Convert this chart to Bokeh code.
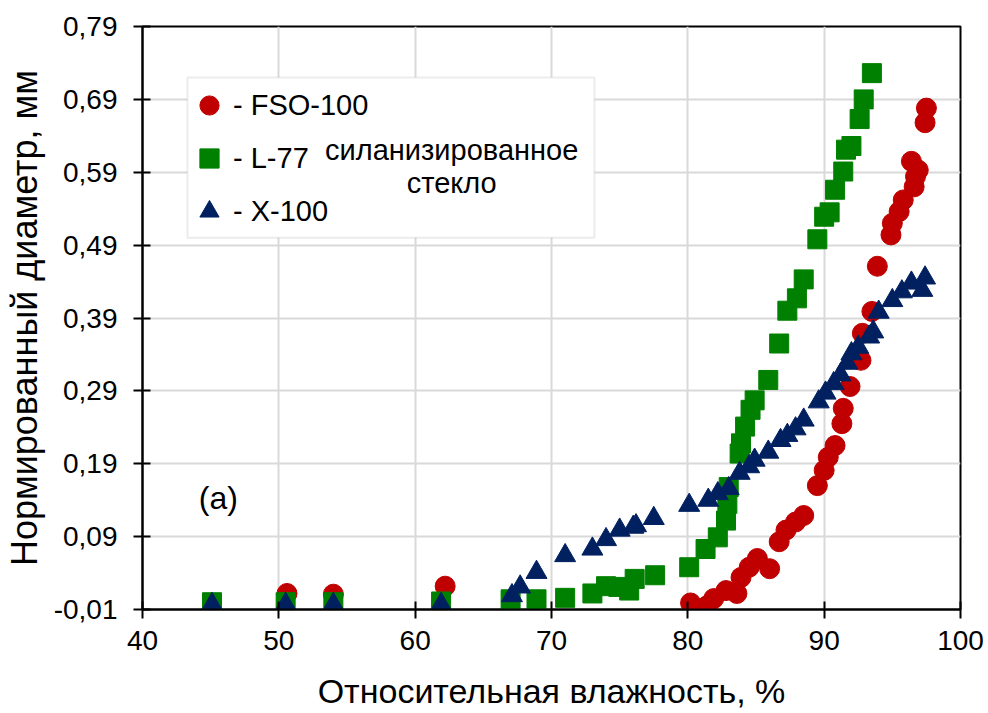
from bokeh.plotting import figure
from bokeh.models import FixedTicker, Legend, LegendItem, Label, BoxAnnotation, Range1d
from bokeh.embed import file_html
from bokeh.resources import INLINE

# ---- data ----
fso_x = [50.6, 54.0, 62.2, 80.2, 81.4, 81.9, 82.8, 83.6, 83.9, 84.5, 85.1, 86.0, 86.7,
         87.2, 87.9, 88.5, 89.5, 90.0, 90.3, 90.8, 91.3, 91.4, 91.9, 92.7, 92.8, 93.5,
         93.9, 94.9, 95.0, 95.5, 95.8, 96.6, 96.7, 96.9, 96.4, 97.4, 97.5]
fso_y = [0.012, 0.011, 0.022, -0.001, -0.005, 0.005, 0.016, 0.012, 0.034, 0.048, 0.060,
         0.046, 0.083, 0.099, 0.110, 0.119, 0.160, 0.181, 0.199, 0.215, 0.245, 0.266,
         0.296, 0.332, 0.369, 0.399, 0.461, 0.504, 0.520, 0.536, 0.552, 0.570, 0.584,
         0.593, 0.605, 0.658, 0.678]

l77_x = [45.1, 50.5, 54.0, 61.9, 67.0, 68.9, 71.0, 73.0, 74.0, 74.9, 75.7, 76.1, 77.6,
         80.1, 81.3, 82.2, 82.8, 82.9, 83.0, 83.8, 83.9, 84.2, 84.6, 84.9, 85.9, 86.7,
         87.3, 88.0, 88.5, 89.5, 90.0, 90.4, 90.8, 91.4, 91.6, 92.0, 92.6, 92.9, 93.5]
l77_y = [0.0, 0.0, 0.0, 0.001, 0.004, 0.004, 0.006, 0.012, 0.022, 0.021, 0.016, 0.032,
         0.037, 0.048, 0.073, 0.089, 0.112, 0.135, 0.158, 0.204, 0.218, 0.241, 0.264,
         0.277, 0.305, 0.355, 0.400, 0.417, 0.443, 0.498, 0.529, 0.535, 0.566, 0.591,
         0.621, 0.626, 0.663, 0.690, 0.726]

x100_x = [45.1, 50.5, 54.0, 61.9, 67.1, 67.7, 68.9, 71.0, 73.0, 74.0, 75.0, 76.0, 76.2,
          77.5, 80.1, 81.5, 82.2, 83.0, 83.8, 84.5, 84.9, 85.9, 86.8, 87.3, 87.9, 88.5,
          89.6, 90.1, 90.7, 91.2, 91.7, 92.0, 92.5, 93.3, 93.6, 94.0, 95.0, 95.7, 96.4,
          97.2, 97.4]
x100_y = [-0.003, -0.003, -0.003, -0.003, 0.009, 0.021, 0.041, 0.064, 0.073, 0.086, 0.099,
          0.103, 0.105, 0.115, 0.133, 0.140, 0.149, 0.156, 0.177, 0.186, 0.195, 0.206,
          0.222, 0.229, 0.238, 0.250, 0.275, 0.287, 0.300, 0.312, 0.328, 0.341, 0.350,
          0.364, 0.371, 0.398, 0.414, 0.426, 0.438, 0.428, 0.445]

x_ticks = [40, 50, 60, 70, 80, 90, 100]
y_ticks = [-0.01, 0.09, 0.19, 0.29, 0.39, 0.49, 0.59, 0.69, 0.79]
y_tick_labels = ["-0,01", "0,09", "0,19", "0,29", "0,39", "0,49", "0,59", "0,69", "0,79"]

series_names = ["- FSO-100", "- L-77", "- X-100"]
x_label = "Относительная влажность, %"
y_label = "Нормированный диаметр, мм"
note_line1 = "силанизированное"
note_line2 = "стекло"
panel_tag = "(a)"

FONT = "Liberation Sans"

p = figure(width=988, height=713, output_backend="svg", toolbar_location=None,
           x_range=Range1d(40, 100), y_range=Range1d(-0.01, 0.79),
           min_border_left=142, min_border_right=28, min_border_top=26,
           min_border_bottom=104)

p.background_fill_color = "white"
p.border_fill_color = "white"
p.outline_line_color = "black"
p.outline_line_width = 2

# grid
p.xgrid.ticker = FixedTicker(ticks=x_ticks)
p.ygrid.ticker = FixedTicker(ticks=y_ticks)
for g in (p.xgrid, p.ygrid):
    g.grid_line_color = "#d9d9d9"
    g.grid_line_width = 2

# axes
p.xaxis.ticker = FixedTicker(ticks=x_ticks)
p.yaxis.ticker = FixedTicker(ticks=y_ticks)
p.yaxis.major_label_overrides = {t: s for t, s in zip(y_ticks, y_tick_labels)}
for ax in (p.xaxis, p.yaxis):
    ax.axis_line_color = "black"
    ax.axis_line_width = 2
    ax.major_tick_line_color = "black"
    ax.major_tick_line_width = 2
    ax.major_tick_in = 8
    ax.major_tick_out = 9
    ax.minor_tick_line_color = None
    ax.major_label_text_font = FONT
    ax.major_label_text_font_size = "28px"
    ax.major_label_text_color = "black"
    ax.axis_label_text_font = FONT
    ax.axis_label_text_font_style = "normal"
    ax.axis_label_text_color = "black"

p.xaxis.axis_label = x_label
p.yaxis.axis_label = y_label
p.xaxis.axis_label_text_font_size = "34px"
p.yaxis.axis_label_text_font_size = "36px"
p.yaxis.major_label_standoff = 16
p.xaxis.major_label_standoff = 12
p.yaxis.axis_label_standoff = 6
p.xaxis.axis_label_standoff = 19

# legend frame (annotation box)
box = BoxAnnotation(left=43.3, right=73.15, bottom=0.500, top=0.720,
                    fill_color="white", fill_alpha=1.0,
                    line_color="#c0c0c0", line_width=2)
p.add_layout(box)

# data
r1 = p.scatter(fso_x, fso_y, marker="circle", size=20, fill_color="#C00000",
               line_color="#C00000")
r2 = p.scatter(l77_x, l77_y, marker="square", size=19, fill_color="#008000",
               line_color="#008000")
r3 = p.scatter(x100_x, x100_y, marker="triangle", size=21, fill_color="#002060",
               line_color="#002060")

legend = Legend(items=[LegendItem(label=series_names[0], renderers=[r1]),
                       LegendItem(label=series_names[1], renderers=[r2]),
                       LegendItem(label=series_names[2], renderers=[r3])],
                location=(43, 374), glyph_width=48, glyph_height=48, spacing=5,
                padding=0, margin=0, label_standoff=0,
                border_line_alpha=0, background_fill_alpha=0,
                label_text_font=FONT, label_text_font_size="29px",
                label_text_color="black")
p.add_layout(legend)

p.add_layout(Label(x=62.68, y=0.621, text=note_line1, text_align="center",
                   text_baseline="middle", text_font=FONT, text_font_size="29px",
                   text_color="black"))
p.add_layout(Label(x=62.68, y=0.5756, text=note_line2, text_align="center",
                   text_baseline="middle", text_font=FONT, text_font_size="29px",
                   text_color="black"))
p.add_layout(Label(x=45.56, y=0.1426, text=panel_tag, text_align="center",
                   text_baseline="middle", text_font=FONT, text_font_size="32px",
                   text_color="black"))

open("out.html", "w").write(file_html(p, INLINE))
